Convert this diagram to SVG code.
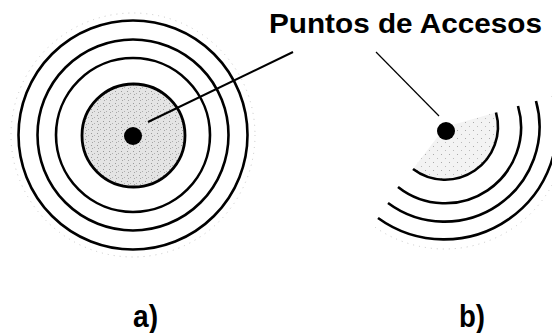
<svg xmlns="http://www.w3.org/2000/svg" width="552" height="333" viewBox="0 0 552 333">
  <defs>
    <pattern id="stipple" width="6" height="6" patternUnits="userSpaceOnUse">
      <rect width="6" height="6" fill="#e4e4e4"/>
      <rect x="1" y="1" width="1" height="1" fill="#9a9a9a"/>
      <rect x="4" y="3" width="1" height="1" fill="#b0b0b0"/>
      <rect x="2" y="4" width="1" height="1" fill="#a5a5a5"/>
    </pattern>
    <pattern id="stippleLight" width="8" height="8" patternUnits="userSpaceOnUse">
      <rect width="8" height="8" fill="#f3f3f3"/>
      <rect x="1" y="2" width="1" height="1" fill="#aaaaaa"/>
      <rect x="5" y="6" width="1" height="1" fill="#bbbbbb"/>
    </pattern>
  </defs>
  <style>
    .ring { fill: none; stroke: #000; stroke-width: 2.6; }
    .halo { fill: none; stroke: #c8c8c8; stroke-width: 1; stroke-dasharray: 1 5; }
    .lead { stroke: #000; fill: none; }
    .title { font-family: "Liberation Sans", Arial, sans-serif; font-weight: bold; fill: #000; }
  </style>

  <rect width="552" height="333" fill="#fff"/>

  <g id="node-a">
    <circle class="halo" cx="133" cy="135" r="122"/>
    <circle class="ring" cx="133" cy="135" r="114.5"/>
    <circle class="ring" cx="133" cy="135" r="95.5"/>
    <circle class="ring" cx="133" cy="135" r="77"/>
    <circle cx="133.5" cy="135.5" r="51.5" fill="url(#stipple)" stroke="#000" stroke-width="2.8"/>
    <circle cx="133" cy="136" r="9" fill="#000"/>
  </g>

  <g id="node-b">
    <path d="M445,127 L496,112.5 A53,53 0 0 1 413,169 Z" fill="url(#stippleLight)" stroke="none"/>
    <path class="halo" d="M552,185 A122,122 0 0 1 372,225"/>
    <path class="ring" d="M496,112.5 A53,53 0 0 1 413,169"/>
    <path class="ring" d="M518,106 A76,76 0 0 1 398,187"/>
    <path class="ring" d="M536,101 A95,95 0 0 1 388,203"/>
    <path class="ring" d="M553,96 A113,113 0 0 1 378,218"/>
    <circle cx="446" cy="131" r="9" fill="#000"/>
  </g>

  <g id="connectors">
    <line class="lead" x1="148" y1="122" x2="293" y2="52" stroke-width="2"/>
    <line class="lead" x1="376" y1="52" x2="439" y2="116" stroke-width="1.2"/>
  </g>

  <g id="labels">
    <text class="title" x="269" y="33" font-size="28" textLength="273" lengthAdjust="spacingAndGlyphs">Puntos de Accesos</text>
    <text class="title" x="133" y="327" font-size="31" textLength="25" lengthAdjust="spacingAndGlyphs">a)</text>
    <text class="title" x="459" y="327" font-size="31" textLength="26" lengthAdjust="spacingAndGlyphs">b)</text>
  </g>
</svg>
